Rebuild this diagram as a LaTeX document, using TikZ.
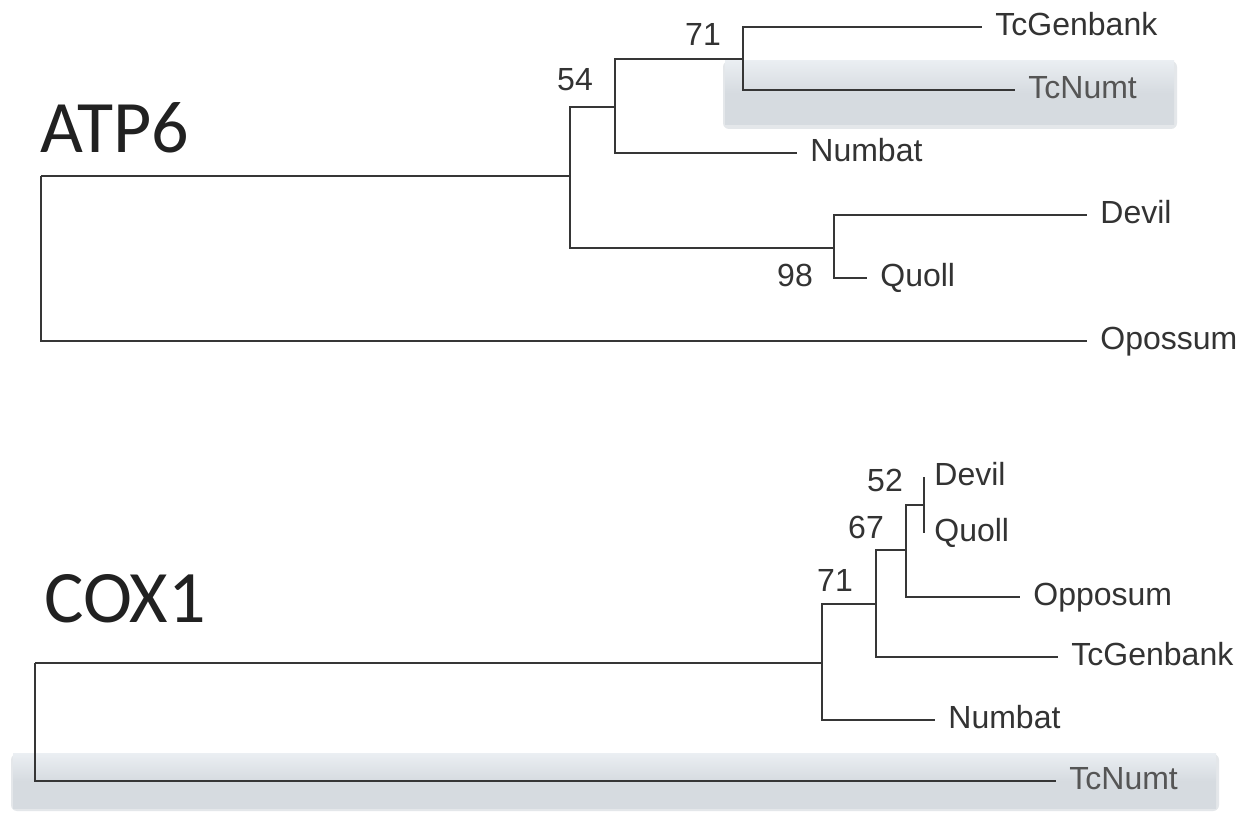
\documentclass[tikz,border=0pt]{standalone}
\usepackage{fontspec}
\setmainfont{Liberation Sans}
\newfontfamily\bigfont{Carlito}
\usetikzlibrary{calc}
\definecolor{branch}{HTML}{363636}
\definecolor{hlmain}{HTML}{D6DBE0}
\definecolor{hltop}{HTML}{EAEEF2}
\definecolor{hlshadow}{HTML}{E4E7EA}
\definecolor{txt}{HTML}{333333}
\definecolor{txtnumt}{HTML}{555555}
\tikzset{
  br/.style={draw=branch, line width=1pt},
  leaf/.style={anchor=west, inner xsep=6.5pt, inner ysep=0pt, text height=0.86em, text depth=0pt,
    font=\fontsize{16}{16}\selectfont, text=txt},
  boot/.style={inner sep=0pt, font=\fontsize{16}{16}\selectfont, text=txt},
  genelabel/.style={anchor=base west, inner sep=0pt, font=\bigfont\fontsize{37}{37}\selectfont, text={black!87}},
  hlshade/.style={top color=hltop, bottom color=hlmain, middle color=hlmain, draw=none},
}
\begin{document}
\begin{tikzpicture}[x=0.5pt, y=-0.5pt]
\useasboundingbox (0,0) rectangle (1258,822);
\fill[white] (0,0) rectangle (1258,822);

% highlight boxes (soft shadow + shaded fill)
\fill[hlshadow, rounded corners=3pt] (723,61) rectangle (1177,129);
\shade[hlshade] (725,61) rectangle (1174,125);
\fill[hlshadow, rounded corners=3pt] (11,754) rectangle (1219,811);
\shade[hlshade] (13,754) rectangle (1216,808);

% gene labels
\node[genelabel] (atp) at (40,153) {ATP6};
\node[genelabel] (cox) at (44,623) {COX1};

% ===== ATP6 tree =====
\coordinate (ar) at (41,176);
\coordinate (a54) at (570,176);
\coordinate (a1) at (615,107);
\coordinate (a71) at (743,59);
\coordinate (a98) at (834,248);
\node[leaf] (aTcG) at (982,27) {TcGenbank};
\node[leaf, text=txtnumt] (aTcN) at (1015,90) {TcNumt};
\node[leaf] (aNum) at (797,153) {Numbat};
\node[leaf] (aDev) at (1087,215) {Devil};
\node[leaf] (aQuo) at (867,278) {Quoll};
\node[leaf] (aOpo) at (1087,341) {Opossum};

\draw[br] (ar) |- (a54);
\draw[br] (ar) |- (aOpo.west);
\draw[br] (a54) |- (a1);
\draw[br] (a54) |- (a98);
\draw[br] (a1) |- (a71);
\draw[br] (a1) |- (aNum.west);
\draw[br] (a71) |- (aTcG.west);
\draw[br] (a71) |- (aTcN.west);
\draw[br] (a98) |- (aDev.west);
\draw[br] (a98) |- (aQuo.west);

\node[boot] (b54) at (575,80) {54};
\node[boot] (b71a) at (703,35) {71};
\node[boot] (b98) at (795,275) {98};

% ===== COX1 tree =====
\coordinate (cr) at (35,663);
\coordinate (c71) at (822,663);
\coordinate (c67) at (876,604);
\coordinate (c52) at (906,550);
\coordinate (cdq) at (924,505);
\node[leaf, inner xsep=5pt] (cDev) at (924,477) {Devil};
\node[leaf, inner xsep=5pt] (cQuo) at (924,533) {Quoll};
\node[leaf] (cOpp) at (1020,597) {Opposum};
\node[leaf] (cTcG) at (1058,657) {TcGenbank};
\node[leaf] (cNum) at (935,720) {Numbat};
\node[leaf, text=txtnumt] (cTcN) at (1056,781) {TcNumt};

\draw[br] (cr) |- (c71);
\draw[br] (cr) |- (cTcN.west);
\draw[br] (c71) |- (c67);
\draw[br] (c71) |- (cNum.west);
\draw[br] (c67) |- (c52);
\draw[br] (c67) |- (cTcG.west);
\draw[br] (c52) |- (cdq);
\draw[br] (c52) |- (cOpp.west);
\draw[br] (cdq) |- (cDev.west);
\draw[br] (cdq) |- (cQuo.west);

\node[boot] (b52) at (885,480) {52};
\node[boot] (b67) at (866,527) {67};
\node[boot] (b71c) at (835,580) {71};
\end{tikzpicture}
\end{document}
